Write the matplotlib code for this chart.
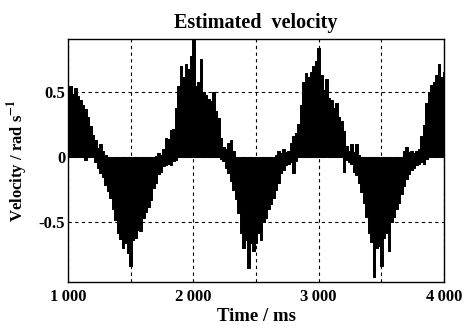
import matplotlib
matplotlib.use("Agg")
import matplotlib.pyplot as plt
import numpy as np

plt.rcParams['font.family'] = ['Liberation Serif', 'DejaVu Serif']
plt.rcParams['mathtext.fontset'] = 'stix'

# time axis (ms), 20 ms bins
time_ms = np.arange(1000, 4001, 20)

# upper envelope of the velocity trace (rad/s)
upper = [
    0.50, 0.55, 0.49, 0.53, 0.47, 0.44, 0.40, 0.37, 0.31, 0.24,
    0.17, 0.13, 0.07, 0.10, 0.05, 0.02, 0, 0, 0, 0,
    0, 0, 0, 0, 0, 0, 0, 0, 0, 0,
    0, 0, 0, 0, 0, 0.01, 0.03, 0.02, 0.06, 0.15,
    0.14, 0.21, 0.22, 0.38, 0.55, 0.70, 0.62, 0.72, 0.68, 0.78,
    0.90, 0.55, 0.58, 0.76, 0.50, 0.48, 0.45, 0.43, 0.50, 0.36,
    0.30, 0.15, 0.08, 0.06, 0.11, 0.13, 0.05, 0, 0, 0,
    0, 0, 0, 0, 0, 0, 0, 0, 0, 0,
    0, 0, 0, 0.02, 0.05, 0.03, 0.06, 0.04, 0.05, 0.11,
    0.16, 0.19, 0.26, 0.40, 0.58, 0.65, 0.62, 0.66, 0.70, 0.74,
    0.84, 0.63, 0.52, 0.60, 0.46, 0.44, 0.38, 0.42, 0.31, 0.28,
    0.20, 0.09, 0.05, 0.10, 0.04, 0.10, 0.02, 0, 0, 0,
    0, 0, 0, 0, 0, 0, 0, 0, 0, 0,
    0, 0, 0, 0, 0.05, 0.08, 0.04, 0.05, 0.03, 0.05,
    0.06, 0.16, 0.25, 0.42, 0.50, 0.56, 0.58, 0.63, 0.72, 0.62,
    0.66,
]

# lower envelope of the velocity trace (rad/s)
lower = [
    0, 0, 0, 0, 0, 0, 0, -0.02, 0, 0,
    0, -0.04, -0.08, -0.12, -0.15, -0.21, -0.26, -0.31, -0.40, -0.48,
    -0.58, -0.63, -0.70, -0.66, -0.74, -0.84, -0.64, -0.62, -0.56, -0.57,
    -0.47, -0.42, -0.38, -0.33, -0.24, -0.20, -0.13, -0.11, -0.07, -0.06,
    -0.05, -0.06, -0.03, -0.02, 0, 0, 0, 0, 0, 0,
    0, 0, 0, 0, 0, 0, 0, 0, 0, 0,
    0, -0.01, -0.03, -0.08, -0.12, -0.18, -0.25, -0.32, -0.43, -0.58,
    -0.70, -0.64, -0.85, -0.66, -0.72, -0.66, -0.58, -0.64, -0.50, -0.47,
    -0.40, -0.36, -0.31, -0.25, -0.20, -0.12, -0.10, -0.06, -0.05, -0.04,
    -0.12, -0.03, 0, 0, 0, 0, 0, 0, 0, 0,
    0, 0, 0, 0, 0, 0, 0, 0, 0, 0,
    -0.11, -0.02, -0.04, -0.05, -0.11, -0.14, -0.20, -0.27, -0.35, -0.46,
    -0.58, -0.65, -0.92, -0.70, -0.68, -0.84, -0.62, -0.58, -0.72, -0.50,
    -0.46, -0.40, -0.35, -0.28, -0.22, -0.17, -0.13, -0.10, -0.08, -0.06,
    -0.05, -0.04, -0.05, -0.01, 0, 0, 0, 0, 0, 0,
    0,
]

x_ticks = [1000, 1500, 2000, 2500, 3000, 3500, 4000]
x_tick_labels = ['1\u2009000', '', '2\u2009000', '', '3\u2009000', '', '4\u2009000']
y_ticks = [-0.5, 0, 0.5]
y_tick_labels = ['-0.5', '0', '0.5']

fig = plt.figure(figsize=(4.66, 3.31), dpi=100)
ax = fig.add_axes([0.146, 0.148, 0.807, 0.734])

ax.fill_between(time_ms, lower, upper, step='mid', color='black', linewidth=0.7,
                antialiased=False, zorder=3)

ax.set_xlim(1000, 4000)
ax.set_ylim(-0.96, 0.91)
ax.set_xticks(x_ticks)
ax.set_xticklabels(x_tick_labels, fontsize=12, fontweight='bold')
ax.set_yticks(y_ticks)
ax.set_yticklabels(y_tick_labels, fontsize=12, fontweight='bold')
ax.tick_params(axis='x', length=0, pad=5)
ax.tick_params(axis='y', length=0, pad=2)
ax.grid(True, color='black', linestyle=(0, (3, 3)), linewidth=0.8, zorder=1)
ax.set_axisbelow(True)
for s in ax.spines.values():
    s.set_linewidth(1.0)

ax.set_title('Estimated  velocity', fontsize=14.5, fontweight='bold', pad=8)
ax.set_xlabel('Time / ms', fontsize=13.5, fontweight='bold', labelpad=2)
ax.set_ylabel(r'Velocity / rad s$^{\mathbf{-1}}$', fontsize=12, fontweight='bold', labelpad=6)

fig.savefig('out.png', dpi=100)
